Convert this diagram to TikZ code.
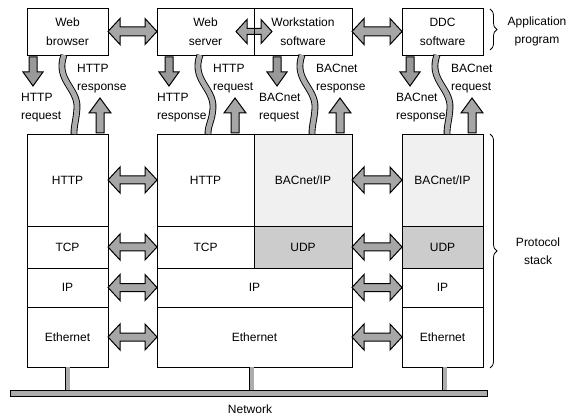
\documentclass[tikz,border=0pt]{standalone}
\usepackage{fontspec}
\setmainfont{Liberation Sans}
\usetikzlibrary{calc,decorations.pathreplacing}
\tikzset{
 box/.style={draw, line width=0.9pt, inner sep=0pt, outer sep=0pt, align=center, font=\fontsize{12}{19}\selectfont},
 barrow/.style={draw, line width=1pt, fill=gray!70},
 darrow/.style={draw, line width=1pt, fill=gray!80},
 wave/.style={draw=black, line width=0.9pt, double=gray!65, double distance=5pt},
 lbl/.style={align=left, anchor=west, inner sep=0pt, font=\fontsize{12}{18}\selectfont},
 side/.style={align=center, inner sep=0pt, font=\fontsize{12}{18}\selectfont},
 bracestyle/.style={draw, line width=0.8pt, decorate, decoration={brace, amplitude=7pt}},
 stub/.style={draw=black, line width=0.7pt, double=gray!65, double distance=4pt},
}
% horizontal double arrow: p1, p2, shaft half height, head half height, head length
\newcommand\HArr[5]{\draw[barrow] let \p1=#1, \p2=#2 in
 (\x1,\y1) -- (\x1+#5,\y1+#4) -- (\x1+#5,\y1+#3) -- (\x2-#5,\y1+#3) -- (\x2-#5,\y1+#4) -- (\x2,\y1)
 -- (\x2-#5,\y1-#4) -- (\x2-#5,\y1-#3) -- (\x1+#5,\y1-#3) -- (\x1+#5,\y1-#4) -- cycle;}
% down arrow from top centre point
\newcommand\DownArr[1]{\draw[darrow] let \p1=#1 in
 (\x1-4pt,\y1) -- (\x1+4pt,\y1) -- (\x1+4pt,\y1-15pt) -- (\x1+10pt,\y1-15pt) -- (\x1,\y1-29pt)
 -- (\x1-10pt,\y1-15pt) -- (\x1-4pt,\y1-15pt) -- cycle;}
% up arrow from tip point
\newcommand\UpArr[1]{\draw[barrow] let \p1=#1 in
 (\x1,\y1) -- (\x1+11pt,\y1-15pt) -- (\x1+4pt,\y1-15pt) -- (\x1+4pt,\y1-35pt) -- (\x1-4pt,\y1-35pt)
 -- (\x1-4pt,\y1-15pt) -- (\x1-11pt,\y1-15pt) -- cycle;}
% wavy band: top node, bottom node, dx top, dx bottom
\newcommand\Wavy[4]{\draw[wave] ($(#1.south west)+(#3,0)$)
 .. controls ($(#1.south west)+(#3-9,25)$) and ($(#1.south west)+(#3+14,33)$) .. ($(#1.south west)+(#3+13,53)$)
 .. controls ($(#1.south west)+(#3+12,67)$) and ($(#2.north west)+(#4,-10)$) .. ($(#2.north west)+(#4,0)$);}
\begin{document}
\begin{tikzpicture}[x=1pt,y=-1pt]
\useasboundingbox (0,0) rectangle (572,419);
% application boxes
\node[box, minimum width=81pt, minimum height=47pt] (wb) at (67.5,31.5) {Web\\browser};
\node[box, minimum width=97pt, minimum height=47pt] (ws) at (205.5,31.5) {Web\\server};
\node[box, minimum width=98pt, minimum height=47pt] (wk) at (303,31.5) {Workstation\\software};
\node[box, minimum width=81pt, minimum height=47pt] (ddc) at (442.5,31.5) {DDC\\software};
% left stack
\node[box, minimum width=81pt, minimum height=92pt] (lhttp) at (67.5,180) {HTTP};
\node[box, minimum width=81pt, minimum height=42pt] (ltcp) at (67.5,247) {TCP};
\node[box, minimum width=81pt, minimum height=39pt] (lip) at (67.5,287.5) {IP};
\node[box, minimum width=81pt, minimum height=60pt] (leth) at (67.5,337) {Ethernet};
% middle stack
\node[box, minimum width=97pt, minimum height=92pt] (mhttp) at (205.5,180) {HTTP};
\node[box, fill=gray!12, minimum width=98pt, minimum height=92pt] (mbac) at (303,180) {BACnet/IP};
\node[box, minimum width=97pt, minimum height=42pt] (mtcp) at (205.5,247) {TCP};
\node[box, fill=gray!40, minimum width=98pt, minimum height=42pt] (mudp) at (303,247) {UDP};
\node[box, minimum width=195pt, minimum height=39pt] (mip) at (254.5,287.5) {IP};
\node[box, minimum width=195pt, minimum height=60pt] (meth) at (254.5,337) {Ethernet};
% right stack
\node[box, fill=gray!12, minimum width=81pt, minimum height=92pt] (rbac) at (442.5,180) {BACnet/IP};
\node[box, fill=gray!40, minimum width=81pt, minimum height=42pt] (rudp) at (442.5,247) {UDP};
\node[box, minimum width=81pt, minimum height=39pt] (rip) at (442.5,287.5) {IP};
\node[box, minimum width=81pt, minimum height=60pt] (reth) at (442.5,337) {Ethernet};
% network
\node[draw, line width=0.8pt, fill=gray!65, minimum width=477pt, minimum height=6pt, inner sep=0pt, outer sep=0pt] (net) at (248.5,393) {};
\node[side] (netl) at (250,409) {Network};
\coordinate (s1) at (leth.south);
\coordinate (s2) at ($(meth.south)+(-3,0)$);
\coordinate (s3) at ($(reth.south)+(2,0)$);
\draw[stub] (s1) -- (s1 |- net.north);
\draw[stub] (s2) -- (s2 |- net.north);
\draw[stub] (s3) -- (s3 |- net.north);
% horizontal double arrows
\HArr{(wb.east)}{(ws.west)}{4.5pt}{13pt}{12pt}
\HArr{($(ws.east)+(-18,0)$)}{($(wk.west)+(18,0)$)}{3pt}{12pt}{11pt}
\draw[line width=0.9pt] (ws.north east) -- (ws.south east);
\HArr{(wk.east)}{(ddc.west)}{4.5pt}{13pt}{12pt}
\HArr{(lhttp.east)}{(mhttp.west)}{4pt}{13pt}{12pt}
\HArr{(ltcp.east)}{(mtcp.west)}{4pt}{13pt}{12pt}
\HArr{(lip.east)}{(mip.west)}{4pt}{13pt}{12pt}
\HArr{(leth.east)}{(meth.west)}{4pt}{13pt}{12pt}
\HArr{(mbac.east)}{(rbac.west)}{4pt}{13pt}{12pt}
\HArr{(mudp.east)}{(rudp.west)}{4pt}{13pt}{12pt}
\HArr{(mip.east)}{(rip.west)}{4pt}{13pt}{12pt}
\HArr{(meth.east)}{(reth.west)}{4pt}{13pt}{12pt}
% vertical arrows
\DownArr{($(wb.south west)+(6,2)$)}
\DownArr{($(ws.south west)+(12,2)$)}
\DownArr{($(wk.south west)+(23,2)$)}
\DownArr{($(ddc.south west)+(8,2)$)}
\UpArr{($(lhttp.north west)+(73,-36)$)}
\UpArr{($(mhttp.north west)+(78,-36)$)}
\UpArr{($(mbac.north west)+(86,-36)$)}
\UpArr{($(rbac.north west)+(70,-36)$)}
% wavy bands
\Wavy{wb}{lhttp}{37}{47}
\Wavy{ws}{mhttp}{43}{51}
\Wavy{wk}{mbac}{48}{58}
\Wavy{ddc}{rbac}{35}{45}
% labels
\node[lbl] (l1) at (21,107.5) {HTTP\\request};
\node[lbl] (l2) at (77,78.5) {HTTP\\response};
\node[lbl] (l3) at (157,107.5) {HTTP\\response};
\node[lbl] (l4) at (213,78.5) {HTTP\\request};
\node[lbl] (l5) at (259,107.5) {BACnet\\request};
\node[lbl] (l6) at (316,78.5) {BACnet\\response};
\node[lbl] (l7) at (396,107.5) {BACnet\\response};
\node[lbl] (l8) at (451,78.5) {BACnet\\request};
% braces
\draw[bracestyle] (490,9) -- (490,50);
\node[side] (app) at (537,31) {Application\\program};
\draw[bracestyle] (490,134) -- (490,368);
\node[side] (ps) at (538,251) {Protocol\\stack};
\end{tikzpicture}
\end{document}
